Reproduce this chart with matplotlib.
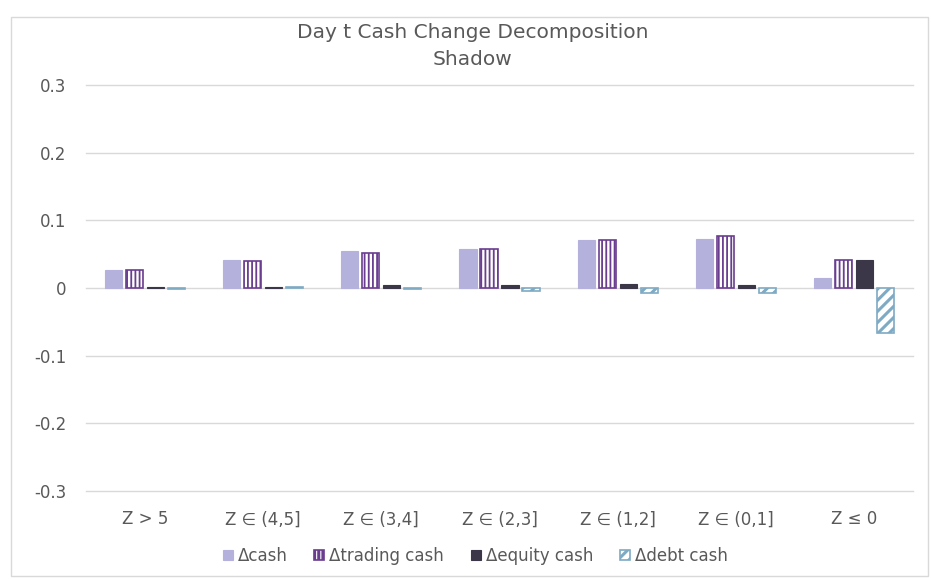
import numpy as np
import matplotlib
matplotlib.use("Agg")
import matplotlib.pyplot as plt
from matplotlib.patches import Rectangle

categories = ["Z > 5", "Z \u2208 (4,5]", "Z \u2208 (3,4]", "Z \u2208 (2,3]",
              "Z \u2208 (1,2]", "Z \u2208 (0,1]", "Z \u2264 0"]
d_cash = [0.026, 0.041, 0.055, 0.057, 0.071, 0.072, 0.015]
d_trading = [0.026, 0.040, 0.052, 0.058, 0.071, 0.077, 0.041]
d_equity = [0.001, 0.002, 0.004, 0.004, 0.006, 0.004, 0.041]
d_debt = [-0.001, 0.002, -0.001, -0.005, -0.007, -0.008, -0.066]
yticks = [0.3, 0.2, 0.1, 0, -0.1, -0.2, -0.3]

text_col = "#595959"
plt.rcParams["font.family"] = ["DejaVu Sans"]

fig = plt.figure(figsize=(9.31, 5.79), dpi=100)
ax = fig.add_axes([86 / 931, 1 - 491 / 579, 827 / 931, 406 / 579])

x = np.arange(len(categories))
w = 0.145
step = 0.178

b1 = ax.bar(x - 1.5 * step, d_cash, w, color="#b4b2dc", edgecolor="#b4b2dc", linewidth=0.8)
plt.rcParams["hatch.linewidth"] = 1.3
b2 = ax.bar(x - 0.5 * step, d_trading, w, color="white", edgecolor="#6a3d8f",
            hatch="||||", linewidth=1.2)
b3 = ax.bar(x + 0.5 * step, d_equity, w, color="#3b3748", edgecolor="#3b3748", linewidth=0.8)
plt.rcParams["hatch.linewidth"] = 2.2
b4 = ax.bar(x + 1.5 * step, d_debt, w, color="white", edgecolor="#7eaac4",
            hatch="///", linewidth=1.2)
for p in b2:
    if hasattr(p, "set_hatch_linewidth"):
        p.set_hatch_linewidth(1.3)
for p in b4:
    if hasattr(p, "set_hatch_linewidth"):
        p.set_hatch_linewidth(2.2)

ax.set_xlim(-0.5, len(categories) - 0.5)
ax.set_ylim(-0.3, 0.3)
ax.set_yticks(yticks)
ax.set_yticklabels(["0.3", "0.2", "0.1", "0", "-0.1", "-0.2", "-0.3"])
ax.set_xticks(x)
ax.set_xticklabels(categories)
for yv in yticks:
    ax.axhline(yv, color="#d9d9d9", linewidth=1, zorder=0, clip_on=False)
for s in ax.spines.values():
    s.set_visible(False)
ax.tick_params(length=0, colors=text_col, labelsize=12)
ax.tick_params(axis="y", pad=14)
ax.tick_params(axis="x", pad=14)

fig.text(473 / 931, 1 - 46 / 579, "Day t Cash Change Decomposition\nShadow",
         ha="center", va="center", fontsize=14.5, color=text_col, linespacing=1.5)

leg = fig.legend([b1, b2, b3, b4], ["\u0394cash", "\u0394trading cash", "\u0394equity cash", "\u0394debt cash"],
                 loc="center", bbox_to_anchor=(475 / 931, 1 - 556 / 579), ncol=4, frameon=False,
                 fontsize=12, handlelength=0.6, handleheight=0.6, handletextpad=0.3,
                 columnspacing=1.6)
for t in leg.get_texts():
    t.set_color(text_col)

fig.patches.append(Rectangle((0.012, 0.005), 0.985, 0.965, transform=fig.transFigure,
                             fill=False, edgecolor="#d9d9d9", linewidth=1))

fig.savefig("out.png", dpi=100)
